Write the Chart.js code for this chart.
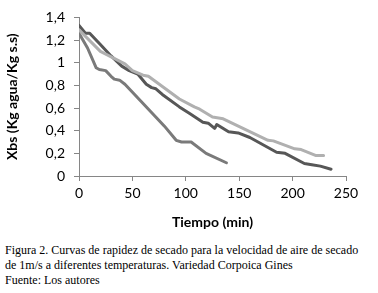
<!DOCTYPE html>
<html>
<head>
<meta charset="utf-8">
<script src="https://cdn.jsdelivr.net/npm/chart.js@4.4.1/dist/chart.umd.min.js"></script>
<style>
    html, body { margin: 0; padding: 0; background: #fff; }
    #wrap { position: relative; width: 378px; height: 293px; overflow: hidden; }
    #chart-box { position: absolute; left: 0; top: 0; width: 378px; height: 235px; }
    #caption {
        position: absolute; left: 5px; top: 243px; width: 373px;
        font-family: "Liberation Serif", serif; font-size: 12px; line-height: 15px; color: #000;
        white-space: nowrap;
    }
</style>
</head>
<body>
<div id="wrap">
    <div id="chart-box"><canvas id="dryChart" width="378" height="235"></canvas></div>
    <div id="caption">
        Figura 2. Curvas de rapidez de secado para la velocidad de aire de secado<br>
        de 1m/s a diferentes temperaturas. Variedad Corpoica Gines<br>
        Fuente: Los autores
    </div>
</div>
<script>
// tiempo (min) y Xbs por curva
const tDark = [0, 6, 10, 20, 30, 40, 47, 55, 63, 68, 72, 78, 94, 104, 116, 121, 127, 129, 140, 149, 160, 185, 193, 211, 218, 226, 236];
const xbsDark = [1.33, 1.26, 1.26, 1.16, 1.06, 0.97, 0.93, 0.90, 0.81, 0.78, 0.77, 0.72, 0.61, 0.55, 0.475, 0.466, 0.42, 0.455, 0.39, 0.38, 0.34, 0.21, 0.20, 0.11, 0.10, 0.087, 0.06];

const tLight = [0, 20, 43, 50, 60, 65, 94, 108, 113, 125, 135, 177, 182, 202, 208, 222, 229];
const xbsLight = [1.29, 1.10, 0.99, 0.93, 0.89, 0.88, 0.68, 0.61, 0.59, 0.52, 0.505, 0.315, 0.31, 0.24, 0.233, 0.18, 0.18];

const tMid = [0, 8, 16, 19, 25, 30, 33, 38, 43, 60, 80, 91, 96, 105, 119, 138];
const xbsMid = [1.26, 1.13, 0.956, 0.94, 0.93, 0.88, 0.855, 0.846, 0.81, 0.64, 0.44, 0.315, 0.30, 0.30, 0.20, 0.117];

const xTicks = [0, 50, 100, 150, 200, 250];
const yTicks = [0, 0.2, 0.4, 0.6, 0.8, 1, 1.2, 1.4];

function toPoints(ts, vs) {
    return ts.map((t, i) => ({ x: t, y: vs[i] }));
}

const axisColor = '#868686';
const tickFont = { family: 'Lato', size: 14 };

new Chart(document.getElementById('dryChart').getContext('2d'), {
    type: 'scatter',
    data: {
        datasets: [
            { data: toPoints(tLight, xbsLight), borderColor: '#b0b0b0' },
            { data: toPoints(tMid, xbsMid), borderColor: '#7a7a7a' },
            { data: toPoints(tDark, xbsDark), borderColor: '#575757' }
        ].map(d => Object.assign(d, {
            showLine: true, borderWidth: 3, pointRadius: 0, tension: 0, fill: false,
            borderJoinStyle: 'round', borderCapStyle: 'round'
        }))
    },
    options: {
        responsive: false,
        animation: false,
        layout: { padding: { left: 0, right: 32, top: 16, bottom: 0 } },
        plugins: { legend: { display: false }, tooltip: { enabled: false } },
        scales: {
            x: {
                type: 'linear', min: 0, max: 250,
                afterBuildTicks: s => { s.ticks = xTicks.map(v => ({ value: v })); },
                afterFit: s => { s.height = 59; },
                grid: { drawOnChartArea: false, drawTicks: true, tickLength: 5, color: axisColor },
                border: { color: axisColor, width: 1 },
                ticks: { color: '#000', font: tickFont, padding: 4, maxRotation: 0 },
                title: { display: true, text: 'Tiempo (min)', color: '#000',
                         font: { family: 'Lato', size: 14, weight: 'bold' }, padding: { top: 2 } }
            },
            y: {
                type: 'linear', min: 0, max: 1.4,
                afterBuildTicks: s => { s.ticks = yTicks.map(v => ({ value: v })); },
                afterFit: s => { s.width = 79; },
                grid: { drawOnChartArea: false, drawTicks: true, tickLength: 5, color: axisColor },
                border: { color: axisColor, width: 1 },
                ticks: {
                    color: '#000', font: tickFont, padding: 9,
                    callback: v => String(Math.round(v * 10) / 10).replace('.', ',')
                },
                title: { display: true, text: 'Xbs (Kg agua/Kg s.s)', color: '#000',
                         font: { family: 'Lato', size: 14, weight: 'bold' }, padding: { bottom: 4 } }
            }
        }
    }
});
</script>
</body>
</html>
